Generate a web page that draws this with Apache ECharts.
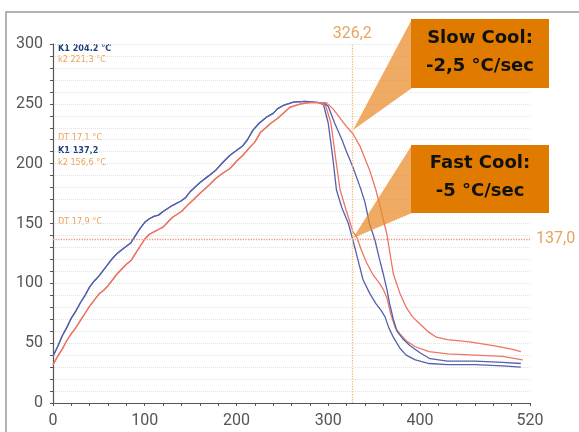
<!DOCTYPE html>
<html><head><meta charset="utf-8">
<script src="https://cdn.jsdelivr.net/npm/echarts@6/dist/echarts.min.js"></script>
<style>html,body{margin:0;padding:0;background:#fff}#c{width:579px;height:432px}</style>
</head><body><div id="c"></div>
<script>
// heating phase (shared by both runs)
const heatK1Time = [0,5,10,15,20,25,30,35,40,45,50,55,60,65,70,75,80,85,90,95,100,105,110,115,120,130,140,145,150,160,170,178,185,193,200,207,212,218,225,233,240,245,252,262,275,290];
const heatK1Temp = [39,47,56,63,71,77,84,90,97,102,106,111,116,121,125,128,131,134,140,146,151,154,156,157,160,165,169,172,177,184,190,195,201,207,211,215,220,228,234,239,242,246,249,251.5,252,251];
const heatK2Time = [0,5,10,15,20,25,30,35,40,45,50,55,60,65,70,75,80,85,90,95,100,105,110,115,120,125,130,140,149,160,170,178,185,193,200,207,215,220,226,232,236,245,258,270,280,290];
const heatK2Temp = [32,39,45,52,58,63,69,75,81,86,91,94,98,103,108,112,116,119,125,131,137,141,143,145,147,151,155,160,167,175,182,188,192,196,202,207,214,218,226,230,233,238,247,250,251,251];
// cooling phase
const fastK1Time = [295,300,305,309,315,322,327,333,338,345,352,358,362,366,371,378,385,395,410,430,460,490,510];
const fastK1Temp = [249,234,205,178,163,150,136,118,103,92,83,77,72,63,55,46,40,36,33,32,32,31,30];
const fastK2Time = [292,297,303,308,313,320,327,331,336,342,349,356,360,364,368,373,378,385,395,410,430,460,490,512];
const fastK2Temp = [251,249,234,205,178,160,143,139,128,117,107,100,95,88,75,63,58,52,47,43,41,40,39,36];
const slowK1Time = [295,300,307,315,320,327,335,340,345,351,356,360,364,367,371,375,382,389,400,411,430,460,490,510];
const slowK1Temp = [251,248,234,220,210,197,180,168,150,136,120,108,95,83,70,60,53,48,42,37,35,35,34,33];
const slowK2Time = [298,305,310,315,320,327,335,345,352,358,364,368,371,378,385,392,400,410,418,430,454,480,500,510];
const slowK2Temp = [251,246,241,236,231,225,214,195,178,160,141,122,108,92,80,72,66,59,55,53,51,48,45,43];

const xLabels = [0,100,200,300,400,520];
const yLabels = [0,50,100,150,200,250,300];
const cursorX = 326.2, cursorY = 137.0;

function pairs(ts, vs){ return ts.map((t,i)=>[t,vs[i]]); }
function join(ht, hv, ct, cv){ return pairs(ht,hv).concat(pairs(ct,cv)); }

const blue = '#5660ad', red = '#ec7563';
const chart = echarts.init(document.getElementById('c'), null, {renderer:'canvas'});
const mkSeries = (name, data, color) => ({
  name, type:'line', data, showSymbol:false, smooth:false,
  lineStyle:{color, width:1.3}, itemStyle:{color}, silent:true, z:3
});
const small = '9px "DejaVu Sans Condensed"';
chart.setOption({
  animation:false,
  grid:{left:53, right:49, top:44, bottom:29},
  xAxis:{type:'value', min:0, max:520, interval:20,
    axisLine:{lineStyle:{color:'#555', width:1.2}},
    axisTick:{show:true, length:3, lineStyle:{color:'#555'}},
    axisLabel:{color:'#555', fontSize:16, fontFamily:'Roboto', margin:10,
      formatter:v=> xLabels.includes(v) ? String(v) : '', showMaxLabel:true},
    splitLine:{show:false}},
  yAxis:{type:'value', min:0, max:300, interval:10,
    axisLine:{show:true, lineStyle:{color:'#555', width:1.2}},
    axisTick:{show:true, length:3, lineStyle:{color:'#555'}},
    axisLabel:{color:'#555', fontSize:16, fontFamily:'Roboto', margin:10,
      formatter:v=> yLabels.includes(v) ? String(v) : ''},
    splitLine:{show:true, lineStyle:{color:'#e2e2e2', type:'dotted', width:1}}},
  series:[
    mkSeries('K1 fast', join(heatK1Time, heatK1Temp, fastK1Time, fastK1Temp), blue),
    mkSeries('k2 fast', join(heatK2Time, heatK2Temp, fastK2Time, fastK2Temp), red),
    mkSeries('K1 slow', join(heatK1Time, heatK1Temp, slowK1Time, slowK1Temp), blue),
    Object.assign(mkSeries('k2 slow', join(heatK2Time, heatK2Temp, slowK2Time, slowK2Temp), red), {
      markLine:{silent:true, symbol:'none', animation:false,
        data:[
          {xAxis:cursorX, lineStyle:{color:'#f6b77a', type:'dotted', width:1.3},
           label:{show:true, position:'end', formatter:'326,2', color:'#e8a464', fontSize:16, fontFamily:'Roboto', distance:2}},
          {yAxis:cursorY, lineStyle:{color:'#f19488', type:'dotted', width:1.3},
           label:{show:true, position:'end', formatter:'137,0', color:'#e8a060', fontSize:16, fontFamily:'Roboto', distance:6}}
        ]}
    })
  ],
  graphic:[
    {type:'rect', shape:{x:6, y:12, width:600, height:440}, style:{fill:'none', stroke:'#9a9a9a', lineWidth:1.5}, z:0, silent:true},
    {type:'text', left:58, top:44, style:{text:'K1 204.2 °C', fill:'#1f3f7e', font:'bold ' + small}},
    {type:'text', left:58, top:55, style:{text:'k2 221,3 °C', fill:'#f0a050', font:small}},
    {type:'text', left:58, top:133, style:{text:'DT 17,1 °C', fill:'#f0a050', font:small}},
    {type:'text', left:58, top:146, style:{text:'K1 137,2', fill:'#1f3f7e', font:'bold ' + small}},
    {type:'text', left:58, top:158, style:{text:'k2 156,6 °C', fill:'#f0a050', font:small}},
    {type:'text', left:58, top:217, style:{text:'DT 17,9 °C', fill:'#f0a050', font:small}},
    {type:'polygon', shape:{points:[[353,130],[412,19],[412,88]]}, style:{fill:'rgba(233,138,40,0.72)'}, z:10},
    {type:'polygon', shape:{points:[[353,238],[412,145],[412,213]]}, style:{fill:'rgba(233,138,40,0.72)'}, z:10},
    {type:'rect', shape:{x:411, y:19, width:138, height:69}, style:{fill:'#e17b00'}, z:11},
    {type:'rect', shape:{x:411, y:145, width:138, height:68}, style:{fill:'#e17b00'}, z:11},
    {type:'text', x:480, y:52, z:12, style:{text:'Slow Cool:\n-2,5 °C/sec', fill:'#111', font:'bold 18px "DejaVu Sans"', align:'center', verticalAlign:'middle', lineHeight:28}},
    {type:'text', x:480, y:177, z:12, style:{text:'Fast Cool:\n-5 °C/sec', fill:'#111', font:'bold 18px "DejaVu Sans"', align:'center', verticalAlign:'middle', lineHeight:28}}
  ]
});
</script></body></html>
